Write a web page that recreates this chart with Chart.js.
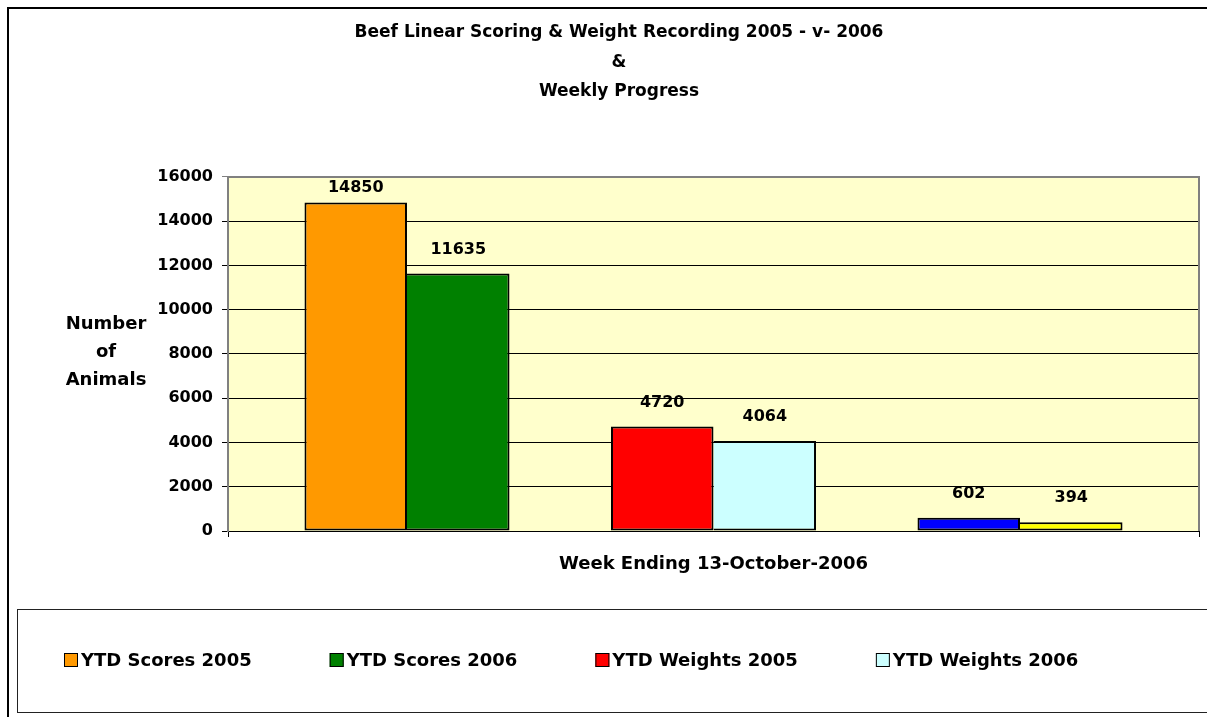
<!DOCTYPE html>
<html>
<head>
<meta charset="utf-8">
<script src="https://cdn.jsdelivr.net/npm/chart.js@4"></script>
<style>
  html, body { margin: 0; padding: 0; background: #fff; }
  #wrap { width: 1207px; height: 717px; }
</style>
</head>
<body>
<div id="wrap"><canvas id="beefChart"></canvas></div>
<script>
const titleLines = ['Beef Linear Scoring & Weight Recording 2005 - v- 2006', '&', 'Weekly Progress'];
const groupLabels = ['YTD Scores', 'YTD Weights', 'Weekly'];
const values2005 = [14850, 4720, 602];
const values2006 = [11635, 4064, 394];
const colors2005 = ['#FF9900', '#FF0000', '#0000FF'];
const colors2006 = ['#008000', '#CCFFFF', '#FFFF00'];
const legendLabels = ['YTD Scores 2005', 'YTD Scores 2006', 'YTD Weights 2005', 'YTD Weights 2006'];
const legendColors = ['#FF9900', '#008000', '#FF0000', '#CCFFFF'];
const yAxisLines = ['Number', 'of', 'Animals'];
const xAxisTitle = 'Week Ending 13-October-2006';
const yMax = 16000;
const yStep = 2000;

const FONT = 'DejaVu Sans';
Chart.defaults.font.family = FONT;
Chart.defaults.font.weight = 'bold';
Chart.defaults.color = '#000';

const toPoints = vals => vals.map((v, i) => ({ x: i + 1, y: v }));

// frame, plot background, borders, value labels, y title and legend box
const decorations = {
    id: 'decorations',
    beforeDraw(chart) {
        const { ctx, chartArea: a } = chart;
        ctx.save();
        ctx.fillStyle = '#fff';
        ctx.fillRect(0, 0, chart.width, chart.height);
        ctx.fillStyle = '#FFFFCC';
        ctx.fillRect(a.left, a.top, a.right - a.left, a.bottom - a.top);
        ctx.restore();
    },
    afterDatasetsDraw(chart) {
        const { ctx, chartArea: a } = chart;
        ctx.save();
        ctx.font = 'bold 16px ' + FONT;
        ctx.fillStyle = '#000';
        ctx.textAlign = 'center';
        ctx.textBaseline = 'middle';
        chart.data.datasets.forEach((ds, di) => {
            chart.getDatasetMeta(di).data.forEach((bar, i) => {
                const y = Math.max(bar.y - 24, a.top + 11);
                ctx.fillText(String(ds.data[i].y), bar.x, y);
            });
        });
        // grey top and right edges of the plot area
        ctx.strokeStyle = '#808080';
        ctx.lineWidth = 2;
        ctx.beginPath();
        ctx.moveTo(a.left, a.top);
        ctx.lineTo(a.right, a.top);
        ctx.lineTo(a.right, a.bottom);
        ctx.stroke();
        ctx.restore();
    },
    afterDraw(chart) {
        const { ctx, chartArea: a } = chart;
        ctx.save();
        // outer frame (runs off the right and bottom)
        ctx.strokeStyle = '#000';
        ctx.lineWidth = 2;
        ctx.strokeRect(8, 8, 1400, 900);

        // y axis title, horizontal
        ctx.font = 'bold 18px ' + FONT;
        ctx.fillStyle = '#000';
        ctx.textAlign = 'center';
        ctx.textBaseline = 'middle';
        const cy = (a.top + a.bottom) / 2;
        yAxisLines.forEach((t, i) => ctx.fillText(t, 106, cy - 30 + i * 28));

        // legend box
        ctx.lineWidth = 1;
        ctx.strokeStyle = '#222';
        ctx.strokeRect(17.5, 609.5, 1400, 103);
        let x = 64;
        const ly = 660;
        legendLabels.forEach((t, i) => {
            ctx.fillStyle = legendColors[i];
            ctx.fillRect(x, ly - 7, 14, 14);
            ctx.strokeStyle = '#000';
            ctx.strokeRect(x + 0.5, ly - 6.5, 13, 13);
            ctx.fillStyle = '#000';
            ctx.textAlign = 'left';
            ctx.fillText(t, x + 17, ly + 1);
            x += 17 + ctx.measureText(t).width + 78;
        });
        ctx.restore();
    }
};

new Chart(document.getElementById('beefChart'), {
    type: 'bar',
    data: {
        labels: groupLabels,
        datasets: [{
            label: '2005',
            data: toPoints(values2005),
            backgroundColor: colors2005,
            borderColor: '#000',
            borderWidth: 2,
            borderSkipped: false
        }, {
            label: '2006',
            data: toPoints(values2006),
            backgroundColor: colors2006,
            borderColor: '#000',
            borderWidth: 2,
            borderSkipped: 'left'   // shares the 2005 bar's right edge
        }]
    },
    options: {
        responsive: true,
        maintainAspectRatio: false,
        animation: false,
        categoryPercentage: 0.669,
        barPercentage: 1,
        layout: { padding: { left: 39, right: 8, top: 0, bottom: 142.2 } },
        plugins: {
            legend: { display: false },
            tooltip: { enabled: false },
            title: {
                display: true,
                text: titleLines,
                color: '#000',
                font: { size: 17, weight: 'bold', lineHeight: 1.735 },
                padding: { top: 18.25, bottom: 70.25 }
            }
        },
        scales: {
            x: {
                type: 'linear',
                min: 0.416,
                max: 3.584,
                offset: false,
                afterBuildTicks: s => { s.ticks = [{ value: s.min }, { value: s.max }]; },
                ticks: { display: false },
                grid: { offset: false, drawOnChartArea: false, drawTicks: true, tickLength: 6, color: '#000' },
                border: { color: '#000', width: 1 },
                title: {
                    display: true,
                    text: xAxisTitle,
                    color: '#000',
                    font: { size: 18, weight: 'bold', lineHeight: 1.2 },
                    padding: { top: 16.2, bottom: 0 }
                }
            },
            y: {
                min: 0,
                max: yMax,
                afterFit: s => { s.width = 189; },
                ticks: {
                    stepSize: yStep,
                    padding: 9,
                    color: '#000',
                    font: { size: 16, weight: 'bold' },
                    callback: v => String(v)
                },
                grid: {
                    color: c => (c.tick && c.tick.value === yMax ? '#808080' : '#000'),
                    tickLength: 6,
                    lineWidth: 1
                },
                border: { color: '#808080', width: 2 }
            }
        }
    },
    plugins: [decorations]
});
</script>
</body>
</html>
